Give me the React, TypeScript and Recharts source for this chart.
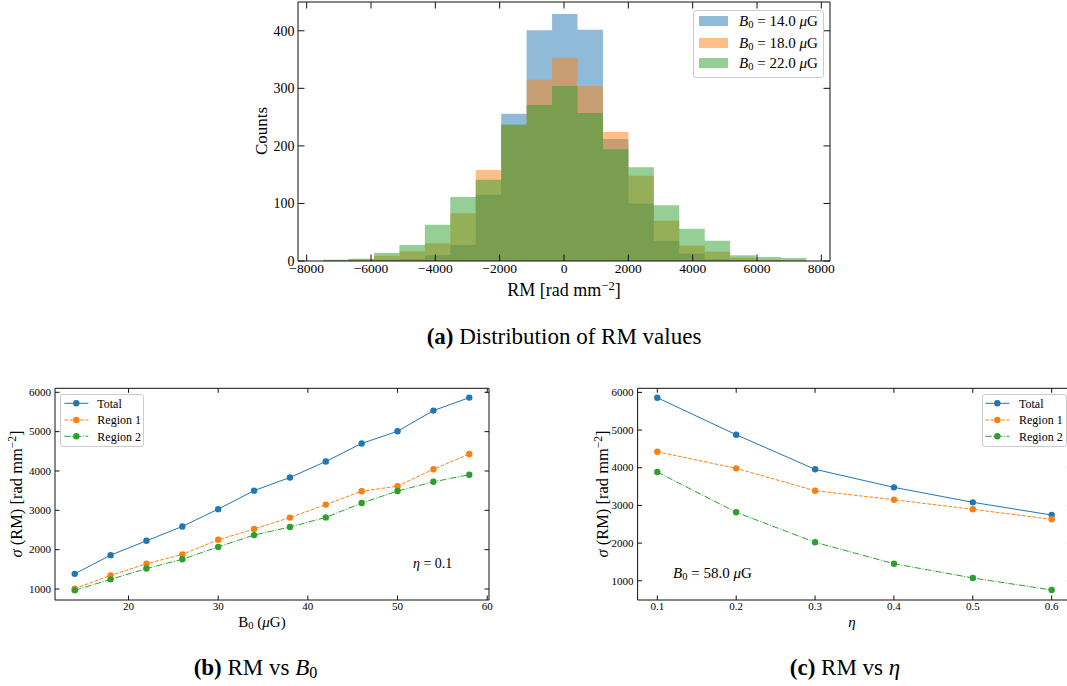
import React from 'react';
import { ComposedChart, LineChart, Line, Area, XAxis, YAxis } from 'recharts';

const FONT = '"Liberation Serif", "Times New Roman", Times, serif';
const C_BLUE = '#1f77b4';
const C_ORANGE = '#ff7f0e';
const C_GREEN = '#2ca02c';

// ---------- (a) histogram data ----------
const binEdges = [-7490, -6699, -5908, -5117, -4326, -3535, -2744, -1953, -1162, -371, 420, 1211, 2002, 2793, 3584, 4375, 5166, 5957, 6748, 7539];
const countsB14 = [1, 1, 2, 3, 10, 28, 115, 256, 401, 429, 402, 212, 100, 35, 13, 3, 1, 0, 0];
const countsB18 = [1, 3, 9, 17, 31, 83, 158, 236, 315, 353, 304, 224, 148, 70, 27, 16, 6, 2, 1];
const countsB22 = [2, 4, 14, 28, 63, 111, 141, 237, 271, 304, 257, 194, 163, 97, 56, 35, 10, 7, 5];
const histXTicks = [-8000, -6000, -4000, -2000, 0, 2000, 4000, 6000, 8000];
const histYTicks = [0, 100, 200, 300, 400];

// ---------- (b) RM vs B0 ----------
const b0Values = [14, 18, 22, 26, 30, 34, 38, 42, 46, 50, 54, 58];
const b0Total = [1385, 1860, 2225, 2590, 3030, 3500, 3835, 4240, 4700, 5010, 5535, 5865];
const b0Region1 = [1010, 1345, 1640, 1880, 2250, 2525, 2815, 3145, 3485, 3615, 4045, 4430];
const b0Region2 = [965, 1245, 1520, 1755, 2070, 2370, 2575, 2820, 3185, 3490, 3725, 3905];
const b0XTicks = [20, 30, 40, 50, 60];
const sigmaYTicks = [1000, 2000, 3000, 4000, 5000, 6000];

// ---------- (c) RM vs eta ----------
const etaValues = [0.1, 0.2, 0.3, 0.4, 0.5, 0.6];
const etaTotal = [5857, 4876, 3958, 3480, 3082, 2745];
const etaRegion1 = [4424, 3984, 3390, 3151, 2897, 2631];
const etaRegion2 = [3886, 2817, 2021, 1453, 1074, 756];
const etaXTicks = [0.1, 0.2, 0.3, 0.4, 0.5, 0.6];

const histData = binEdges.map((x, i) => {
  const j = Math.min(i, countsB14.length - 1);
  return { x, b14: countsB14[j], b18: countsB18[j], b22: countsB22[j] };
});
const b0Data = b0Values.map((x, i) => ({ x, total: b0Total[i], r1: b0Region1[i], r2: b0Region2[i] }));
const etaData = etaValues.map((x, i) => ({ x, total: etaTotal[i], r1: etaRegion1[i], r2: etaRegion2[i] }));

const lineSeries = [
  { key: 'total', name: 'Total', color: C_BLUE, dash: undefined as string | undefined },
  { key: 'r1', name: 'Region 1', color: C_ORANGE, dash: '3.7 1.6' },
  { key: 'r2', name: 'Region 2', color: C_GREEN, dash: '6.4 1.6 1 1.6' },
];

const fmtNum = (v: number) => (v < 0 ? '\u2212' + Math.abs(v) : String(v));
const fmtPlain = (v: number) => String(v);

const AX = { stroke: '#111', strokeWidth: 1 };

function bottomTick(len: number, fs: number, base: number, fmt: (v: number) => string) {
  return (p: any) => (
    <g>
      <line x1={p.x} x2={p.x} y1={p.y} y2={p.y - len} stroke="#111" strokeWidth={1} />
      <text x={p.x} y={p.y + base} textAnchor="middle" fontSize={fs} fontFamily={FONT} fill="#000">
        {fmt(p.payload.value)}
      </text>
    </g>
  );
}
function topTick(len: number) {
  return (p: any) => <line x1={p.x} x2={p.x} y1={p.y} y2={p.y + len} stroke="#111" strokeWidth={1} />;
}
function leftTick(len: number, fs: number, gap: number, fmt: (v: number) => string) {
  return (p: any) => (
    <g>
      <line x1={p.x} x2={p.x + len} y1={p.y} y2={p.y} stroke="#111" strokeWidth={1} />
      <text x={p.x - gap} y={p.y + fs * 0.34} textAnchor="end" fontSize={fs} fontFamily={FONT} fill="#000">
        {fmt(p.payload.value)}
      </text>
    </g>
  );
}
function rightTick(len: number) {
  return (p: any) => <line x1={p.x} x2={p.x - len} y1={p.y} y2={p.y} stroke="#111" strokeWidth={1} />;
}

const Txt = ({ x, y, size, rotate = false, left = false, children }: any) => (
  <div
    style={{
      position: 'absolute',
      left: x,
      top: y,
      fontSize: size,
      lineHeight: 1,
      whiteSpace: 'nowrap',
      color: '#000',
      transform: left ? 'translate(0, -50%)' : `translate(-50%, -50%)${rotate ? ' rotate(-90deg)' : ''}`,
    }}
  >
    {children}
  </div>
);

const Sup = ({ children }: any) => (
  <sup style={{ fontSize: '0.7em', verticalAlign: '0.5em', lineHeight: 0 }}>{children}</sup>
);
const Sub = ({ children }: any) => (
  <sub style={{ fontSize: '0.7em', verticalAlign: '-0.2em', lineHeight: 0 }}>{children}</sub>
);

function LineLegend({ left, top, width, height, sx1, sx2, tx }: any) {
  const rows = [9.3, 26, 42.3];
  return (
    <div
      style={{
        position: 'absolute',
        left,
        top,
        width,
        height,
        boxSizing: 'border-box',
        border: '1px solid #cccccc',
        borderRadius: 3,
        background: 'rgba(255,255,255,0.8)',
      }}
    >
      <svg width={width} height={height} style={{ position: 'absolute', left: -1, top: -1 }}>
        {lineSeries.map((s, i) => (
          <g key={s.key}>
            <line x1={sx1} x2={sx2} y1={rows[i]} y2={rows[i]} stroke={s.color} strokeWidth={1} strokeDasharray={s.dash} />
            <circle cx={(sx1 + sx2) / 2} cy={rows[i]} r={3.2} fill={s.color} />
          </g>
        ))}
      </svg>
      {lineSeries.map((s, i) => (
        <div key={s.key} style={{ position: 'absolute', left: tx - 1, top: rows[i] - 1, transform: 'translate(0,-50%)', fontSize: 12, lineHeight: 1, whiteSpace: 'nowrap' }}>
          {s.name}
        </div>
      ))}
    </div>
  );
}

function sigmaChart(data: any[], xDomain: number[], xTicks: number[], yDomain: number[], width: number, margin: any, xfmt: (v: number) => string) {
  return (
    <LineChart width={width} height={260} data={data} margin={margin}>
      <XAxis xAxisId="b" type="number" dataKey="x" domain={xDomain} allowDataOverflow ticks={xTicks} interval={0} height={1} tickSize={0} tickMargin={0} tickLine={false} axisLine={AX} tick={bottomTick(4.5, 11, 10.3, xfmt)} />
      <XAxis xAxisId="t" orientation="top" type="number" dataKey="x" domain={xDomain} allowDataOverflow ticks={xTicks} interval={0} height={1} tickSize={0} tickMargin={0} tickLine={false} axisLine={AX} tick={topTick(4.5)} />
      <YAxis yAxisId="l" type="number" domain={yDomain} allowDataOverflow ticks={sigmaYTicks} interval={0} width={1} tickSize={0} tickMargin={0} tickLine={false} axisLine={AX} tick={leftTick(4.5, 11, 4, fmtPlain)} />
      <YAxis yAxisId="r" orientation="right" type="number" domain={yDomain} allowDataOverflow ticks={sigmaYTicks} interval={0} width={1} tickSize={0} tickMargin={0} tickLine={false} axisLine={AX} tick={rightTick(4.5)} />
      {lineSeries.map((s) => (
        <Line
          key={s.key}
          xAxisId="b"
          yAxisId="l"
          type="linear"
          dataKey={s.key}
          stroke={s.color}
          strokeWidth={1}
          strokeDasharray={s.dash}
          dot={{ r: 3.2, fill: s.color, stroke: 'none', strokeDasharray: '0' }}
          activeDot={false}
          isAnimationActive={false}
        />
      ))}
    </LineChart>
  );
}

export default function App() {
  return (
    <div
      style={{
        position: 'absolute',
        left: 0,
        top: 0,
        width: 1067,
        height: 686,
        overflow: 'hidden',
        background: '#fff',
        fontFamily: FONT,
      }}
    >
      {/* (a) histogram */}
      <div style={{ position: 'absolute', left: 0, top: 0 }}>
        <ComposedChart width={1067} height={300} data={histData} margin={{ top: 1, right: 236, bottom: 38, left: 297 }}>
          <XAxis xAxisId="b" type="number" dataKey="x" domain={[-8270, 8270]} allowDataOverflow ticks={histXTicks} interval={0} height={1} tickSize={0} tickMargin={0} tickLine={false} axisLine={AX} tick={bottomTick(6.5, 13.5, 11.6, fmtNum)} />
          <XAxis xAxisId="t" orientation="top" type="number" dataKey="x" domain={[-8270, 8270]} allowDataOverflow ticks={histXTicks} interval={0} height={1} tickSize={0} tickMargin={0} tickLine={false} axisLine={AX} tick={topTick(6.5)} />
          <YAxis yAxisId="l" type="number" domain={[0, 450]} allowDataOverflow ticks={histYTicks} interval={0} width={1} tickSize={0} tickMargin={0} tickLine={false} axisLine={AX} tick={leftTick(6.5, 14, 3.5, fmtNum)} />
          <YAxis yAxisId="r" orientation="right" type="number" domain={[0, 450]} allowDataOverflow ticks={histYTicks} interval={0} width={1} tickSize={0} tickMargin={0} tickLine={false} axisLine={AX} tick={rightTick(6.5)} />
          <Area xAxisId="b" yAxisId="l" type="stepAfter" dataKey="b14" fill={C_BLUE} fillOpacity={0.5} stroke="none" dot={false} activeDot={false} isAnimationActive={false} />
          <Area xAxisId="b" yAxisId="l" type="stepAfter" dataKey="b18" fill={C_ORANGE} fillOpacity={0.5} stroke="none" dot={false} activeDot={false} isAnimationActive={false} />
          <Area xAxisId="b" yAxisId="l" type="stepAfter" dataKey="b22" fill={C_GREEN} fillOpacity={0.5} stroke="none" dot={false} activeDot={false} isAnimationActive={false} />
        </ComposedChart>
      </div>

      {/* hist legend */}
      <div
        style={{
          position: 'absolute',
          left: 693,
          top: 10,
          width: 131,
          height: 68,
          boxSizing: 'border-box',
          border: '1px solid #cccccc',
          borderRadius: 3,
          background: 'rgba(255,255,255,0.8)',
        }}
      >
        {[
          { c: 'rgba(31,119,180,0.5)', v: '14.0', y: 11 },
          { c: 'rgba(255,127,14,0.5)', v: '18.0', y: 32.5 },
          { c: 'rgba(44,160,44,0.5)', v: '22.0', y: 53 },
        ].map((r) => (
          <React.Fragment key={r.v}>
            <div style={{ position: 'absolute', left: 5, top: r.y - 5 - 1, width: 29, height: 10, background: r.c }} />
            <div style={{ position: 'absolute', left: 45, top: r.y - 1, transform: 'translate(0,-50%)', fontSize: 15, lineHeight: 1, whiteSpace: 'nowrap' }}>
              <i>B</i>
              <Sub>0</Sub> = {r.v} <i>μ</i>G
            </div>
          </React.Fragment>
        ))}
      </div>

      <Txt x={261} y={131} size={17} rotate>
        Counts
      </Txt>
      <Txt x={564} y={290} size={18}>
        RM [rad mm<Sup>−2</Sup>]
      </Txt>
      <Txt x={564} y={336} size={23}>
        <b>(a)</b> Distribution of RM values
      </Txt>

      {/* (b) RM vs B0 */}
      <div style={{ position: 'absolute', left: 0, top: 380 }}>
        {sigmaChart(b0Data, [11.8, 60.2], b0XTicks, [720, 6102], 540, { top: 7.3, right: 50, bottom: 39, left: 54 }, fmtPlain)}
      </div>
      <LineLegend left={60} top={394.3} width={84} height={52.5} sx1={4.3} sx2={28.3} tx={37.3} />
      <Txt x={413} y={564.3} size={14} left>
        <i>η</i> = 0.1
      </Txt>
      <Txt x={17} y={494} size={16.5} rotate>
        <i>σ</i> (RM) [rad mm<Sup>−2</Sup>]
      </Txt>
      <Txt x={262} y={621.5} size={15}>
        B<Sub>0</Sub> (<i>μ</i>G)
      </Txt>
      <Txt x={255.5} y={666.7} size={23}>
        <b>(b)</b> RM vs <i>B</i>
        <Sub>0</Sub>
      </Txt>

      {/* (c) RM vs eta */}
      <div style={{ position: 'absolute', left: 540, top: 380 }}>
        {sigmaChart(etaData, [0.075, 0.625], etaXTicks, [490, 6108], 560, { top: 7.3, right: 27.6, bottom: 39, left: 96.6 }, fmtPlain)}
      </div>
      <LineLegend left={981.7} top={394.3} width={85} height={52.5} sx1={3.3} sx2={27.3} tx={37.3} />
      <Txt x={673} y={572.7} size={15} left>
        <i>B</i>
        <Sub>0</Sub> = 58.0 <i>μ</i>G
      </Txt>
      <Txt x={603} y={494} size={16.5} rotate>
        <i>σ</i> (RM) [rad mm<Sup>−2</Sup>]
      </Txt>
      <Txt x={852} y={621.5} size={15}>
        <i>η</i>
      </Txt>
      <Txt x={845} y={666.7} size={23}>
        <b>(c)</b> RM vs <i>η</i>
      </Txt>
    </div>
  );
}
